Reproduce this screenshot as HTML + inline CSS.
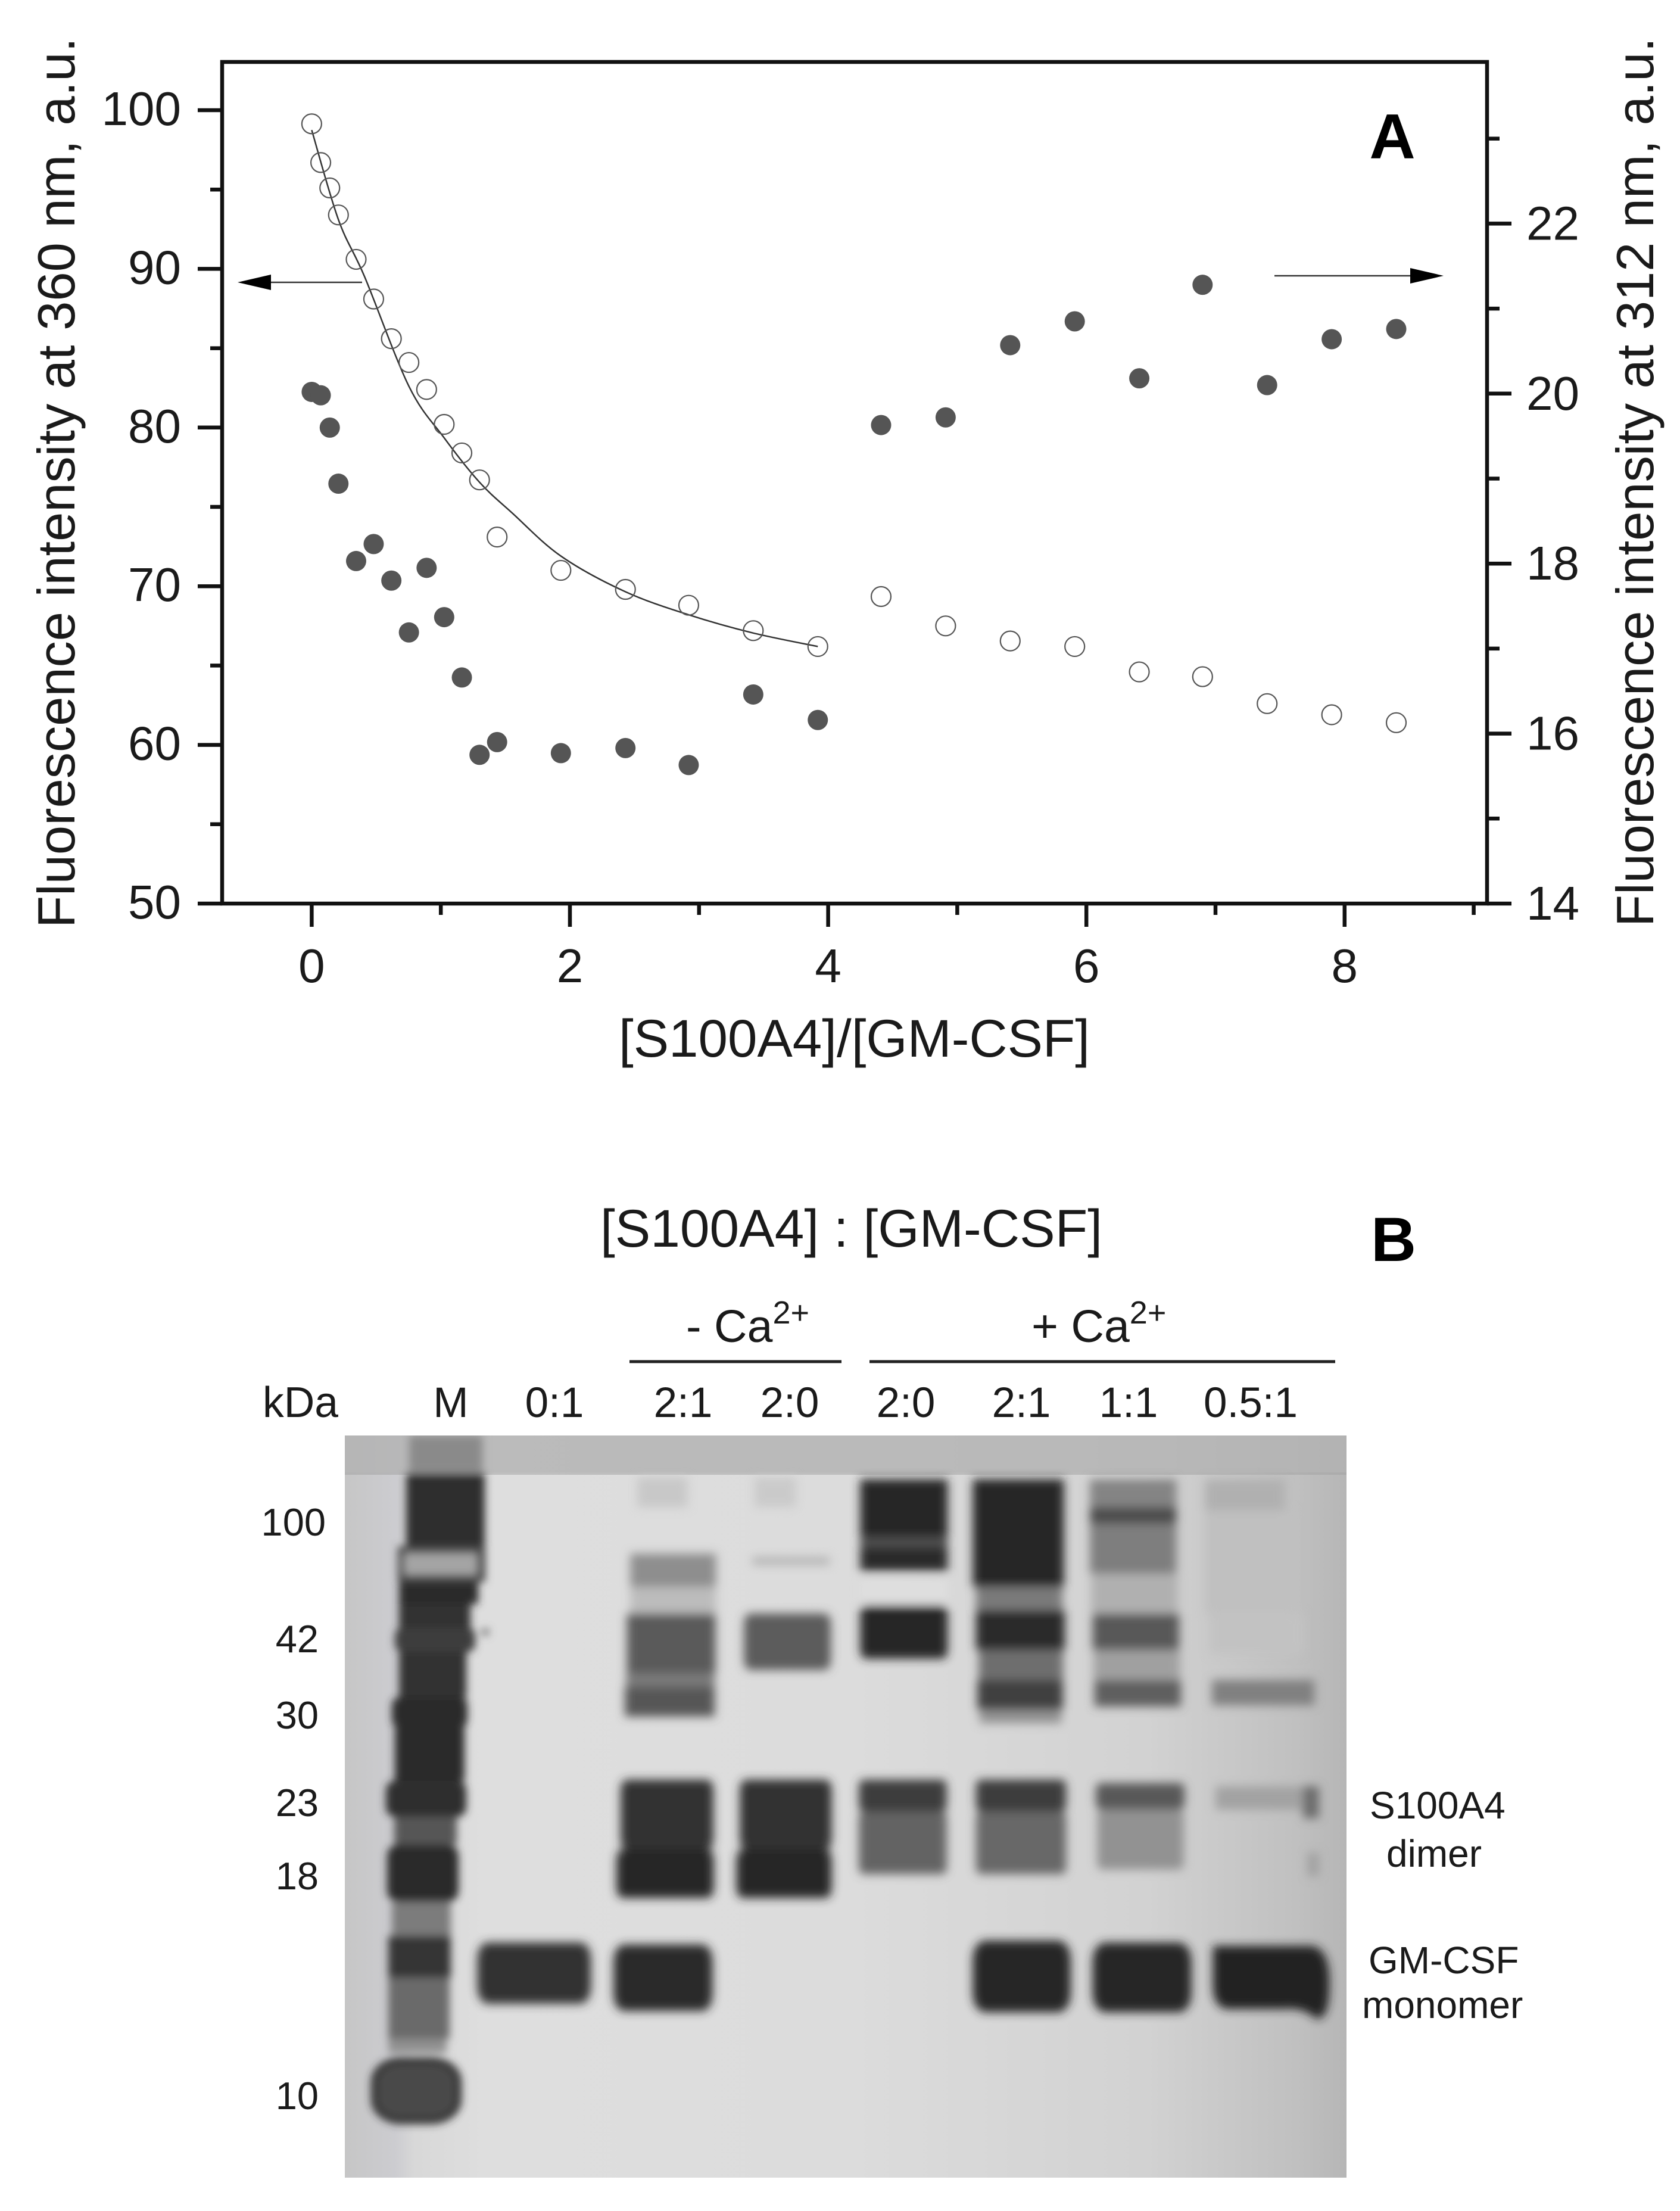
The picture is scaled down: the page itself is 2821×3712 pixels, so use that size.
<!DOCTYPE html>
<html lang="en">
<head>
<meta charset="utf-8">
<title>S100A4 and GM-CSF fluorescence titration and gel</title>
<style>
html,body{margin:0;padding:0;background:#fff}
svg{display:block}
text{font-family:"Liberation Sans",sans-serif;fill:#1a1a1a}
</style>
</head>
<body>
<svg id="fig" xmlns="http://www.w3.org/2000/svg" width="2821" height="3712" viewBox="0 0 2821 3712">
<defs>
<filter id="soft" filterUnits="userSpaceOnUse" x="579" y="2410" width="1682" height="1246"><feGaussianBlur stdDeviation="8"/></filter>
<filter id="softM" filterUnits="userSpaceOnUse" x="579" y="2410" width="1682" height="1246"><feGaussianBlur stdDeviation="7"/></filter>
<filter id="softS" filterUnits="userSpaceOnUse" x="579" y="2410" width="1682" height="1246"><feGaussianBlur stdDeviation="13"/></filter>
<filter id="soft2" filterUnits="userSpaceOnUse" x="579" y="2410" width="1682" height="1246"><feGaussianBlur stdDeviation="3"/></filter>
<linearGradient id="gelBg" x1="0" x2="1" y1="0" y2="0">
<stop offset="0" stop-color="#c6c6c6"/><stop offset="0.05" stop-color="#ccccd0"/><stop offset="0.07" stop-color="#d8d8d8"/><stop offset="0.14" stop-color="#dedede"/><stop offset="0.5" stop-color="#dcdcdc"/><stop offset="0.8" stop-color="#d2d2d2"/><stop offset="0.95" stop-color="#c0c0c0"/><stop offset="1" stop-color="#b6b6b6"/>
</linearGradient>
<clipPath id="gelClip"><rect x="579" y="2410" width="1682" height="1246"/></clipPath>
</defs>

<g id="chart">
<g id="ticks"></g>
<rect x="373" y="104" width="2124" height="1413" fill="none" stroke="#111" stroke-width="6.5"/>
<g id="tickLabels"></g>
<path id="fitCurve" fill="none" stroke="#333" stroke-width="2.5"/>
<g id="openSeries"></g>
<g id="filledSeries"></g>
<g><line x1="608" y1="474" x2="450" y2="474" stroke="#333" stroke-width="2.5"/><polygon points="399,474 455,461 455,487" fill="#000"/></g>
<g><line x1="2140" y1="463" x2="2372" y2="463" stroke="#333" stroke-width="2.5"/><polygon points="2424,463 2368,450 2368,476" fill="#000"/></g>
<text transform="rotate(-90 125 1558)" x="125" y="1558" font-size="88" textLength="1495" lengthAdjust="spacingAndGlyphs">Fluorescence intensity at 360 nm, a.u.</text>
<text transform="rotate(-90 2776 1556)" x="2776" y="1556" font-size="88" textLength="1493" lengthAdjust="spacingAndGlyphs">Fluorescence intensity at 312 nm, a.u.</text>
<text x="1039" y="1774" font-size="89" textLength="791" lengthAdjust="spacingAndGlyphs">[S100A4]/[GM-CSF]</text>
<text x="2338" y="266" font-size="107" font-weight="700" text-anchor="middle" style="fill:#000">A</text>
</g>

<g id="panelB">
<text x="1008" y="2093" font-size="89" textLength="843" lengthAdjust="spacingAndGlyphs">[S100A4] : [GM-CSF]</text>
<text x="2340" y="2117" font-size="105" font-weight="700" text-anchor="middle" style="fill:#000">B</text>
<text x="1152" y="2253" font-size="77">- Ca<tspan font-size="54" dy="-31">2+</tspan></text>
<text x="1732" y="2253" font-size="77">+ Ca<tspan font-size="54" dy="-31">2+</tspan></text>
<line x1="1057" y1="2286" x2="1413" y2="2286" stroke="#222" stroke-width="5"/>
<line x1="1460" y1="2286" x2="2242" y2="2286" stroke="#222" stroke-width="5"/>

<g font-size="71">
<text x="441" y="2379" font-size="72" textLength="127" lengthAdjust="spacingAndGlyphs">kDa</text>
<text x="757" y="2379" text-anchor="middle">M</text>
<text x="931" y="2379" text-anchor="middle">0:1</text>
<text x="1147" y="2379" text-anchor="middle">2:1</text>
<text x="1326" y="2379" text-anchor="middle">2:0</text>
<text x="1521" y="2379" text-anchor="middle">2:0</text>
<text x="1715" y="2379" text-anchor="middle">2:1</text>
<text x="1895" y="2379" text-anchor="middle">1:1</text>
<text x="2100" y="2379" text-anchor="middle">0.5:1</text>
</g>
<g font-size="65" text-anchor="end">
<text x="547" y="2578">100</text>
<text x="535" y="2774">42</text>
<text x="535" y="2902">30</text>
<text x="535" y="3049">23</text>
<text x="535" y="3172">18</text>
<text x="535" y="3541">10</text>
</g>
<g font-size="64">
<text x="2300" y="3053">S100A4</text>
<text x="2328" y="3134">dimer</text>
<text x="2298" y="3313">GM-CSF</text>
<text x="2287" y="3388">monomer</text>
</g>

<g clip-path="url(#gelClip)">
<rect x="579" y="2410" width="1682" height="1246" fill="url(#gelBg)"/>
<rect x="579" y="2410" width="1682" height="62" fill="#b2b2b2" opacity="0.8"/>
<rect x="579" y="2472" width="1682" height="4" fill="#a0a0a0" opacity="0.5"/>

<g filter="url(#softM)">
<rect x="687" y="2410" width="123" height="62" fill="#8a8a8a"/>
<rect x="682" y="2474" width="132" height="130" fill="#2e2e2e"/>
<rect x="668" y="2596" width="147" height="60" fill="#4c4c4c"/>
<rect x="670" y="2656" width="133" height="37" fill="#2c2c2c"/>
<rect x="670" y="2693" width="120" height="40" fill="#303030"/>
<rect x="663" y="2733" width="135" height="40" rx="12" fill="#3e3e3e"/>
<rect x="670" y="2773" width="113" height="77" fill="#303030"/>
<rect x="658" y="2850" width="127" height="50" rx="12" fill="#2c2c2c"/>
<rect x="663" y="2900" width="117" height="90" fill="#2a2a2a"/>
<rect x="648" y="2990" width="135" height="60" rx="15" fill="#2e2e2e"/>
<rect x="662" y="3050" width="105" height="47" fill="#565656"/>
<rect x="650" y="3097" width="120" height="96" rx="18" fill="#2a2a2a"/>
<rect x="658" y="3193" width="99" height="57" fill="#7c7c7c"/>
<rect x="652" y="3250" width="105" height="70" fill="#353535"/>
<rect x="652" y="3320" width="103" height="103" fill="#6a6a6a"/>
<rect x="652" y="3423" width="98" height="24" fill="#909090"/>
<rect x="628" y="3459" width="142" height="102" rx="46" ry="36" fill="#4a4a4a" stroke="#2c2c2c" stroke-width="10"/>
<rect x="679" y="2608" width="122" height="36" fill="#a4a4a4"/>
<circle cx="815" cy="2740" r="6" fill="#666"/>
</g>

<g filter="url(#soft)">
<g transform="translate(400 1950) scale(0.7018 1.116)">
<g>
<rect x="572" y="1175" width="272" height="92" rx="25" fill="#333"/>
</g>
<g>
<rect x="955" y="475" width="120" height="45" fill="#c8c8c8"/>
<rect x="938" y="590" width="205" height="50" fill="#8e8e8e"/>
<rect x="938" y="640" width="205" height="40" fill="#bcbcbc"/>
<rect x="930" y="680" width="212" height="90" fill="#5a5a5a"/>
<rect x="928" y="770" width="212" height="20" fill="#7a7a7a"/>
<rect x="925" y="790" width="215" height="45" fill="#565656"/>
<rect x="915" y="930" width="222" height="105" rx="15" fill="#303030"/>
<rect x="905" y="1035" width="233" height="73" rx="15" fill="#262626"/>
<rect x="898" y="1178" width="237" height="100" rx="25" fill="#2c2c2c"/>
</g>
<g>
<rect x="1235" y="475" width="100" height="45" fill="#cacaca"/>
<rect x="1230" y="595" width="185" height="12" fill="#b4b4b4"/>
<rect x="1210" y="680" width="208" height="85" rx="15" fill="#5c5c5c"/>
<rect x="1200" y="930" width="220" height="105" rx="15" fill="#303030"/>
<rect x="1192" y="1035" width="228" height="73" rx="15" fill="#262626"/>
</g>
</g>
<g transform="translate(1400 1950) scale(0.7651 1.116)">
<g>
<rect x="58" y="478" width="192" height="87" fill="#262626"/>
<rect x="58" y="565" width="192" height="15" fill="#505050"/>
<rect x="58" y="580" width="192" height="37" fill="#2a2a2a"/>
<rect x="58" y="625" width="192" height="40" fill="#dedede"/>
<rect x="58" y="668" width="192" height="80" rx="12" fill="#262626"/>
<rect x="55" y="930" width="193" height="48" rx="10" fill="#3c3c3c"/>
<rect x="55" y="978" width="193" height="94" rx="10" fill="#646464"/>
</g>
<g>
<rect x="305" y="478" width="200" height="162" fill="#262626"/>
<rect x="312" y="640" width="190" height="35" fill="#7a7a7a"/>
<rect x="312" y="675" width="195" height="60" fill="#2c2c2c"/>
<rect x="318" y="735" width="185" height="45" fill="#6e6e6e"/>
<rect x="315" y="780" width="188" height="45" fill="#404040"/>
<rect x="320" y="825" width="180" height="20" fill="#929292"/>
<rect x="312" y="930" width="198" height="48" rx="10" fill="#3c3c3c"/>
<rect x="312" y="978" width="198" height="94" rx="10" fill="#686868"/>
<rect x="305" y="1172" width="215" height="108" rx="28" fill="#262626"/>
</g>
<g>
<rect x="562" y="478" width="190" height="42" fill="#848484"/>
<rect x="562" y="520" width="190" height="25" fill="#4c4c4c"/>
<rect x="562" y="545" width="190" height="75" fill="#7e7e7e"/>
<rect x="565" y="620" width="190" height="60" fill="#b0b0b0"/>
<rect x="568" y="680" width="190" height="55" fill="#585858"/>
<rect x="570" y="735" width="190" height="45" fill="#a0a0a0"/>
<rect x="572" y="780" width="190" height="40" fill="#5e5e5e"/>
<rect x="575" y="935" width="195" height="40" rx="10" fill="#585858"/>
<rect x="578" y="975" width="190" height="90" rx="10" fill="#929292"/>
<rect x="568" y="1175" width="217" height="105" rx="28" fill="#262626"/>
</g>
<g>
<rect x="815" y="478" width="175" height="47" fill="#b0b0b0"/>
<rect x="815" y="525" width="195" height="155" fill="#c0c0c0"/>
<rect x="825" y="680" width="205" height="60" fill="#c2c2c2"/>
<rect x="830" y="780" width="225" height="38" fill="#808080"/>
<rect x="838" y="940" width="200" height="35" fill="#a2a2a2"/>
<rect x="1030" y="940" width="35" height="48" fill="#6c6c6c"/>
<rect x="1040" y="1040" width="25" height="35" fill="#a0a0a0"/>
<path d="M832 1180 H1050 Q1090 1185 1088 1240 Q1088 1290 1060 1290 Q1030 1272 990 1275 H860 Q832 1270 832 1240 Z" fill="#222"/>
</g>
</g>
</g>
<g filter="url(#softS)" transform="translate(1400 1950) scale(0.7651 1.116)">
<polygon points="985,510 1005,510 1058,780 1058,820 1025,780" fill="#555"/>
</g>
<g filter="url(#soft2)" transform="translate(400 1950) scale(0.7018 1.116)">
<rect x="1353" y="412" width="6" height="270" fill="#5a5a5a"/>
</g>
</g>
</g>

<script>
var ratios = [0,0.07,0.14,0.207,0.344,0.48,0.617,0.753,0.89,1.026,1.163,1.3,1.436,1.93,2.43,2.92,3.42,3.92,4.41,4.91,5.41,5.91,6.41,6.9,7.4,7.9,8.4];
var openValues = [99.14,96.7,95.1,93.4,90.6,88.1,85.6,84.1,82.4,80.2,78.4,76.7,73.1,71.0,69.8,68.8,67.2,66.2,69.35,67.5,66.55,66.2,64.6,64.3,62.6,61.9,61.4];
var filledValues = [20.02,19.98,19.6,18.94,18.03,18.23,17.8,17.19,17.95,17.37,16.66,15.75,15.9,15.77,15.83,15.63,16.46,16.16,19.63,19.72,20.57,20.85,20.18,21.28,20.1,20.64,20.76];
var fitX = [0,0.207,0.41,0.753,1.026,1.3,1.555,1.93,2.43,2.92,3.42,3.92];
var fitY = [98.75,93.1,89.5,82.6,79.35,76.55,74.6,71.9,69.65,68.2,67.05,66.2];
var xMajorTicks = [0,2,4,6,8];
var xMinorTicks = [1,3,5,7,9];
var leftMajorTicks = [50,60,70,80,90,100];
var leftMinorTicks = [55,65,75,85,95];
var rightMajorTicks = [14,16,18,20,22];
var rightMinorTicks = [15,17,19,21,23];

var NS = 'http://www.w3.org/2000/svg';
function sx(v){ return 523.4 + 216.8 * v; }
function syL(v){ return 1517 - 26.64 * (v - 50); }
function syR(v){ return 1517 - 142.7 * (v - 14); }

var tickGroup = document.getElementById('ticks');
var labelGroup = document.getElementById('tickLabels');

function tick(x1, y1, x2, y2, name){
  var l = document.createElementNS(NS, 'line');
  l.setAttribute('x1', x1); l.setAttribute('y1', y1);
  l.setAttribute('x2', x2); l.setAttribute('y2', y2);
  l.setAttribute('stroke', '#111');
  l.setAttribute('stroke-width', '6.5');
  
  
  tickGroup.appendChild(l);
}
function label(x, y, s, anchor, name){
  var t = document.createElementNS(NS, 'text');
  t.setAttribute('x', x); t.setAttribute('y', y);
  t.setAttribute('font-size', '80');
  t.setAttribute('text-anchor', anchor);
  
  
  t.textContent = s;
  labelGroup.appendChild(t);
}
xMajorTicks.forEach(function(v){
  tick(sx(v), 1517, sx(v), 1556, 'x-major-tick');
  label(sx(v), 1649, String(v), 'middle', 'x-tick-label');
});
xMinorTicks.forEach(function(v){ tick(sx(v), 1517, sx(v), 1536, 'x-minor-tick'); });
leftMajorTicks.forEach(function(v){
  tick(373, syL(v), 332, syL(v), 'left-major-tick');
  label(304, syL(v) + 25, String(v), 'end', 'left-tick-label');
});
leftMinorTicks.forEach(function(v){ tick(373, syL(v), 353, syL(v), 'left-minor-tick'); });
rightMajorTicks.forEach(function(v){
  tick(2497, syR(v), 2538, syR(v), 'right-major-tick');
  label(2563, syR(v) + 27, String(v), 'start', 'right-tick-label');
});
rightMinorTicks.forEach(function(v){ tick(2497, syR(v), 2518, syR(v), 'right-minor-tick'); });

var openGroup = document.getElementById('openSeries');
var filledGroup = document.getElementById('filledSeries');
ratios.forEach(function(r, i){
  var o = document.createElementNS(NS, 'circle');
  o.setAttribute('cx', sx(r));
  o.setAttribute('cy', syL(openValues[i]));
  o.setAttribute('r', '16.5');
  o.setAttribute('fill', 'none');
  o.setAttribute('stroke', '#555');
  o.setAttribute('stroke-width', '2.2');
  
  
  openGroup.appendChild(o);
  var f = document.createElementNS(NS, 'circle');
  f.setAttribute('cx', sx(r));
  f.setAttribute('cy', syR(filledValues[i]));
  f.setAttribute('r', '17');
  f.setAttribute('fill', '#555');
  
  
  filledGroup.appendChild(f);
});

function smoothPath(xs, ys){
  var p = xs.map(function(x, i){ return [sx(x), syL(ys[i])]; });
  var d = 'M' + p[0][0] + ' ' + p[0][1];
  for (var i = 0; i < p.length - 1; i++){
    var a = p[Math.max(i - 1, 0)], b = p[i], c = p[i + 1], e = p[Math.min(i + 2, p.length - 1)];
    d += ' C' + (b[0] + (c[0] - a[0]) / 6) + ' ' + (b[1] + (c[1] - a[1]) / 6) + ' ' +
         (c[0] - (e[0] - b[0]) / 6) + ' ' + (c[1] - (e[1] - b[1]) / 6) + ' ' + c[0] + ' ' + c[1];
  }
  return d;
}
document.getElementById('fitCurve').setAttribute('d', smoothPath(fitX, fitY));
</script>
</svg>
</body>
</html>
